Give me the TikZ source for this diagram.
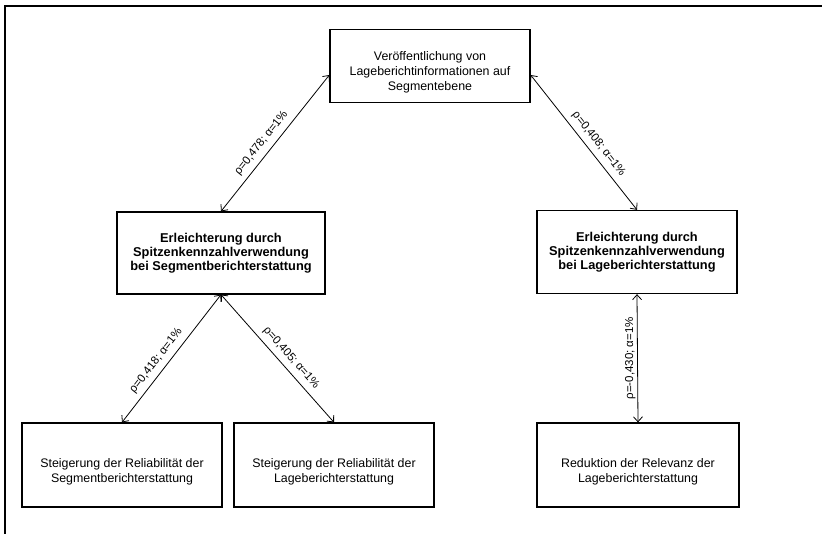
\documentclass[tikz,border=0pt]{standalone}
\usepackage{fontspec}
\setmainfont{Liberation Sans}
\usetikzlibrary{arrows.meta}
% taller first line, pushes the text down in its box
\newcommand{\topgap}{\rule{0pt}{22pt}}

\begin{document}
\begin{tikzpicture}[x=1pt,y=-1pt,
    box/.style={draw,line width=1.3pt,minimum width=200pt,minimum height=84pt,
      align=center,inner sep=0pt,font=\fontsize{12.4}{15}\selectfont},
    hbox/.style={box,font=\fontsize{12.8}{14.2}\selectfont\bfseries},
    rel/.style={{Straight Barb[length=5pt,width=9pt]}-{Straight Barb[length=5pt,width=9pt]},
      line width=0.8pt},
    lab/.style={above,sloped,inner sep=5pt,font=\fontsize{11.5}{13}\selectfont}]
  \useasboundingbox (0,0) rectangle (822,534);
  % frame
  \draw[line width=1.5pt] (5,534) -- (5,6) -- (822,6);
  \draw
    (430,66) node[box,minimum height=73pt] (top){\topgap Veröffentlichung von\\Lageberichtinformationen auf\\Segmentebene}
    (221,253) node[hbox,minimum width=208pt,minimum height=82pt] (lmid){Erleichterung durch\\Spitzenkennzahlverwendung\\bei Segmentberichterstattung}
    (637,252) node[hbox,minimum height=83pt] (rmid){Erleichterung durch\\Spitzenkennzahlverwendung\\bei Lageberichterstattung}
    (122,465) node[box] (bl){\topgap Steigerung der Reliabilität der\\Segmentberichterstattung}
    (334,465) node[box] (bm){\topgap Steigerung der Reliabilität der\\Lageberichterstattung}
    (638,465) node[box,minimum width=202pt] (br){\topgap Reduktion der Relevanz der\\Lageberichterstattung};
  \begin{scope}[rel]
    \draw (lmid.north) to node[lab,pos=0.45] {ρ=0,478; α=1\%} ([yshift=-9pt]top.west);
    \draw ([yshift=-9pt]top.east) to node[lab,pos=0.56] {ρ=0,408; α=1\%} (rmid.north);
    \draw (bl.north) to node[lab,pos=0.43] {ρ=0,418; α=1\%} (lmid.south);
    \draw (lmid.south) to node[lab,pos=0.55] {ρ=0,405; α=1\%} (bm.north);
    \draw (br.north) to node[pos=0.5,rotate=90,anchor=south,inner sep=1.5pt,
      font=\fontsize{11.5}{13}\selectfont] {ρ=-0,430; α=1\%} (rmid.south);
  \end{scope}
\end{tikzpicture}
\end{document}
